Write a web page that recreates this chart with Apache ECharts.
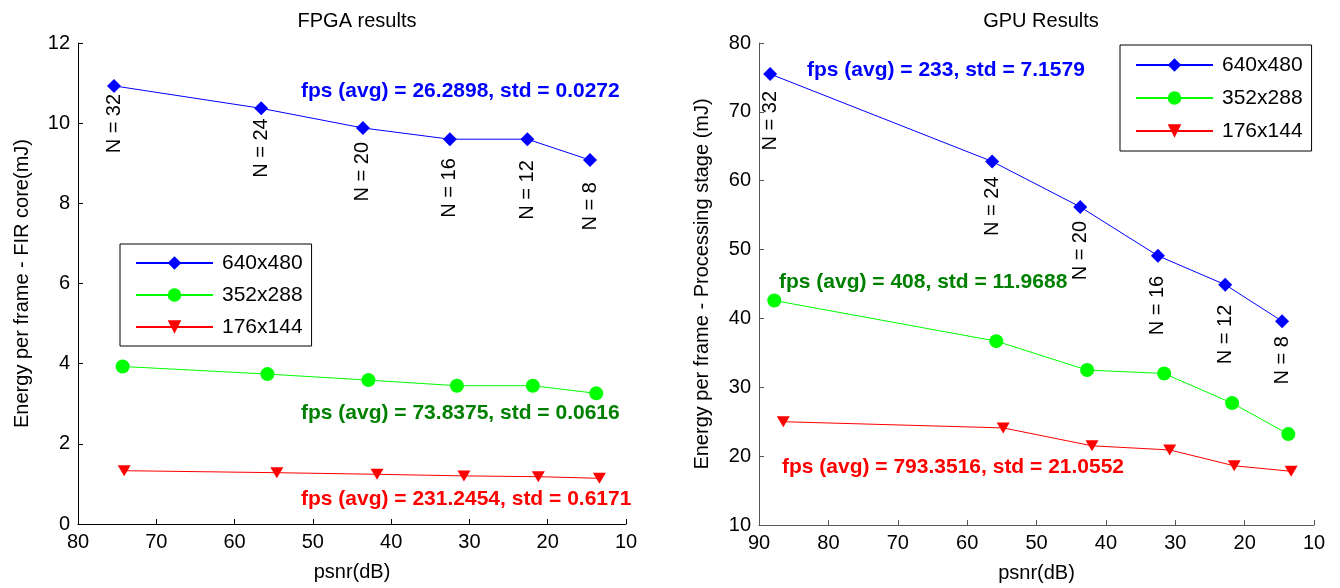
<!DOCTYPE html>
<html>
<head>
<meta charset="utf-8">
<title>FPGA / GPU results</title>
<script src="https://cdn.jsdelivr.net/npm/echarts@6/dist/echarts.min.js"></script>
<style>
  html, body { margin: 0; padding: 0; background: #fff; }
  #main { width: 1340px; height: 588px; }
</style>
</head>
<body>
<div id="main"></div>
<script>
  // 数据：从图上读出来的近似值
  var seriesNames = ['640x480', '352x288', '176x144'];
  var nLabels = ['N = 32', 'N = 24', 'N = 20', 'N = 16', 'N = 12', 'N = 8'];

  // FPGA
  var fpgaPsnr640 = [75.4, 56.6, 43.6, 32.5, 22.6, 14.6];
  var fpgaEnergy640 = [10.93, 10.37, 9.88, 9.60, 9.60, 9.08];
  var fpgaPsnr352 = [74.3, 55.8, 42.9, 31.6, 21.9, 13.8];
  var fpgaEnergy352 = [3.93, 3.74, 3.59, 3.45, 3.45, 3.26];
  var fpgaPsnr176 = [74.1, 54.6, 41.8, 30.7, 21.2, 13.4];
  var fpgaEnergy176 = [1.33, 1.28, 1.24, 1.20, 1.18, 1.14];

  // GPU
  var gpuPsnr640 = [88.4, 56.4, 43.7, 32.5, 22.8, 14.6];
  var gpuEnergy640 = [75.5, 62.8, 56.2, 49.1, 44.9, 39.6];
  var gpuPsnr352 = [87.8, 55.8, 42.7, 31.6, 21.8, 13.7];
  var gpuEnergy352 = [42.6, 36.7, 32.5, 32.0, 27.7, 23.2];
  var gpuPsnr176 = [86.5, 54.8, 42.0, 30.8, 21.5, 13.3];
  var gpuEnergy176 = [25.0, 24.1, 21.5, 20.9, 18.6, 17.8];

  var fpgaNotes = ['fps (avg) = 26.2898, std = 0.0272', 'fps (avg) = 73.8375, std = 0.0616', 'fps (avg) = 231.2454, std = 0.6171'];
  var gpuNotes = ['fps (avg) = 233, std = 7.1579', 'fps (avg) = 408, std = 11.9688', 'fps (avg) = 793.3516, std = 21.0552'];

  // N 标签离点的距离（样式）
  var fpgaLabelGap = [1, 3, 7, 12, 14, 15];
  var gpuLabelGap = [10, 8, 7, 13, 13, 8];

  var FONT = '"Liberation Sans", Arial, sans-serif';
  var colors = ['#0000ff', '#00ff00', '#ff0000'];
  var noteColors = ['#0000ff', '#008000', '#ff0000'];
  var symbols = ['diamond', 'circle', 'triangle'];
  var symbolSizes = [14, 14, [13, 11]];
  var symbolRotates = [0, 0, 180];

  function zip(xs, ys) {
    var out = [];
    for (var i = 0; i < xs.length; i++) {
      out.push([xs[i], ys[i]]);
    }
    return out;
  }

  function makeSeries(idx, gridIdx, data, gaps) {
    var s = {
      name: seriesNames[idx],
      type: 'line',
      xAxisIndex: gridIdx,
      yAxisIndex: gridIdx,
      symbol: symbols[idx],
      symbolSize: symbolSizes[idx],
      symbolRotate: symbolRotates[idx],
      showAllSymbol: true,
      animation: false,
      lineStyle: { color: colors[idx], width: 1 },
      itemStyle: { color: colors[idx], borderWidth: 0 },
      data: data
    };
    if (gaps) {
      s.data = data.map(function (d, i) {
        return { value: d, label: { distance: gaps[i] } };
      });
      s.label = {
        show: true,
        position: 'bottom',
        rotate: 90,
        align: 'right',
        verticalAlign: 'middle',
        color: '#000',
        fontSize: 20,
        fontFamily: FONT,
        formatter: function (p) { return nLabels[p.dataIndex]; }
      };
    }
    return s;
  }

  function axisCommon(lineColor) {
    return {
      axisLine: { show: true, lineStyle: { color: lineColor, width: 1 } },
      axisTick: { show: true, inside: true, length: 5, lineStyle: { color: lineColor } },
      axisLabel: { color: '#000', fontSize: 20, fontFamily: FONT, margin: 8 },
      splitLine: { show: false },
      nameTextStyle: { color: '#000', fontSize: 20, fontFamily: FONT }
    };
  }

  function xAxisOf(gridIdx, min, max, lineColor) {
    return Object.assign(axisCommon(lineColor), {
      gridIndex: gridIdx,
      type: 'value',
      min: min,
      max: max,
      interval: 10,
      inverse: true,
      name: 'psnr(dB)',
      nameLocation: 'middle',
      nameGap: 38
    });
  }

  function yAxisOf(gridIdx, min, max, interval, name, gap, lineColor) {
    return Object.assign(axisCommon(lineColor), {
      gridIndex: gridIdx,
      type: 'value',
      min: min,
      max: max,
      interval: interval,
      name: name,
      nameLocation: 'middle',
      nameGap: gap
    });
  }

  function legendOf(left, top, gap, pad) {
    return {
      data: seriesNames,
      orient: 'vertical',
      left: left,
      top: top,
      itemWidth: 77,
      itemHeight: 17,
      itemGap: gap,
      padding: pad,
      borderColor: '#000',
      borderWidth: 1,
      backgroundColor: '#fff',
      selectedMode: false,
      textStyle: { color: '#000', fontSize: 21, fontFamily: FONT, lineHeight: 22, padding: [0, 0, 0, 4] }
    };
  }

  function note(text, x, y, color) {
    return {
      type: 'text',
      x: x,
      y: y,
      silent: true,
      style: {
        text: text,
        fill: color,
        font: 'bold 21px ' + FONT,
        textAlign: 'left',
        textVerticalAlign: 'middle'
      }
    };
  }

  var myChart = echarts.init(document.getElementById('main'));

  myChart.setOption({
    animation: false,
    backgroundColor: '#fff',
    textStyle: { fontFamily: FONT },
    title: [
      { text: 'FPGA results', left: 352, top: 6, textAlign: 'center',
        textStyle: { color: '#000', fontSize: 20, fontWeight: 'normal', fontFamily: FONT } },
      { text: 'GPU Results', left: 1036, top: 6, textAlign: 'center',
        textStyle: { color: '#000', fontSize: 20, fontWeight: 'normal', fontFamily: FONT } }
    ],
    grid: [
      { left: 78, right: 714, top: 43, bottom: 64 },
      { left: 759, right: 26, top: 43, bottom: 63 }
    ],
    xAxis: [
      xAxisOf(0, 10, 80, '#000'),
      xAxisOf(1, 10, 90, '#555')
    ],
    yAxis: [
      yAxisOf(0, 0, 12, 2, 'Energy per frame - FIR core(mJ)', 46, '#000'),
      yAxisOf(1, 10, 80, 10, 'Energy per frame - Processing stage (mJ)', 47, '#555')
    ],
    legend: [
      legendOf(120, 244, 10, [8, 9, 8, 15]),
      legendOf(1120, 45, 11, [9, 9, 9, 15])
    ],
    series: [
      makeSeries(0, 0, zip(fpgaPsnr640, fpgaEnergy640), fpgaLabelGap),
      makeSeries(1, 0, zip(fpgaPsnr352, fpgaEnergy352)),
      makeSeries(2, 0, zip(fpgaPsnr176, fpgaEnergy176)),
      makeSeries(0, 1, zip(gpuPsnr640, gpuEnergy640), gpuLabelGap),
      makeSeries(1, 1, zip(gpuPsnr352, gpuEnergy352)),
      makeSeries(2, 1, zip(gpuPsnr176, gpuEnergy176))
    ],
    graphic: [
      note(fpgaNotes[0], 301, 91, noteColors[0]),
      note(fpgaNotes[1], 301, 413, noteColors[1]),
      note(fpgaNotes[2], 301, 499, noteColors[2]),
      note(gpuNotes[0], 807, 70, noteColors[0]),
      note(gpuNotes[1], 779, 282, noteColors[1]),
      note(gpuNotes[2], 782, 467, noteColors[2])
    ]
  });
</script>
</body>
</html>
